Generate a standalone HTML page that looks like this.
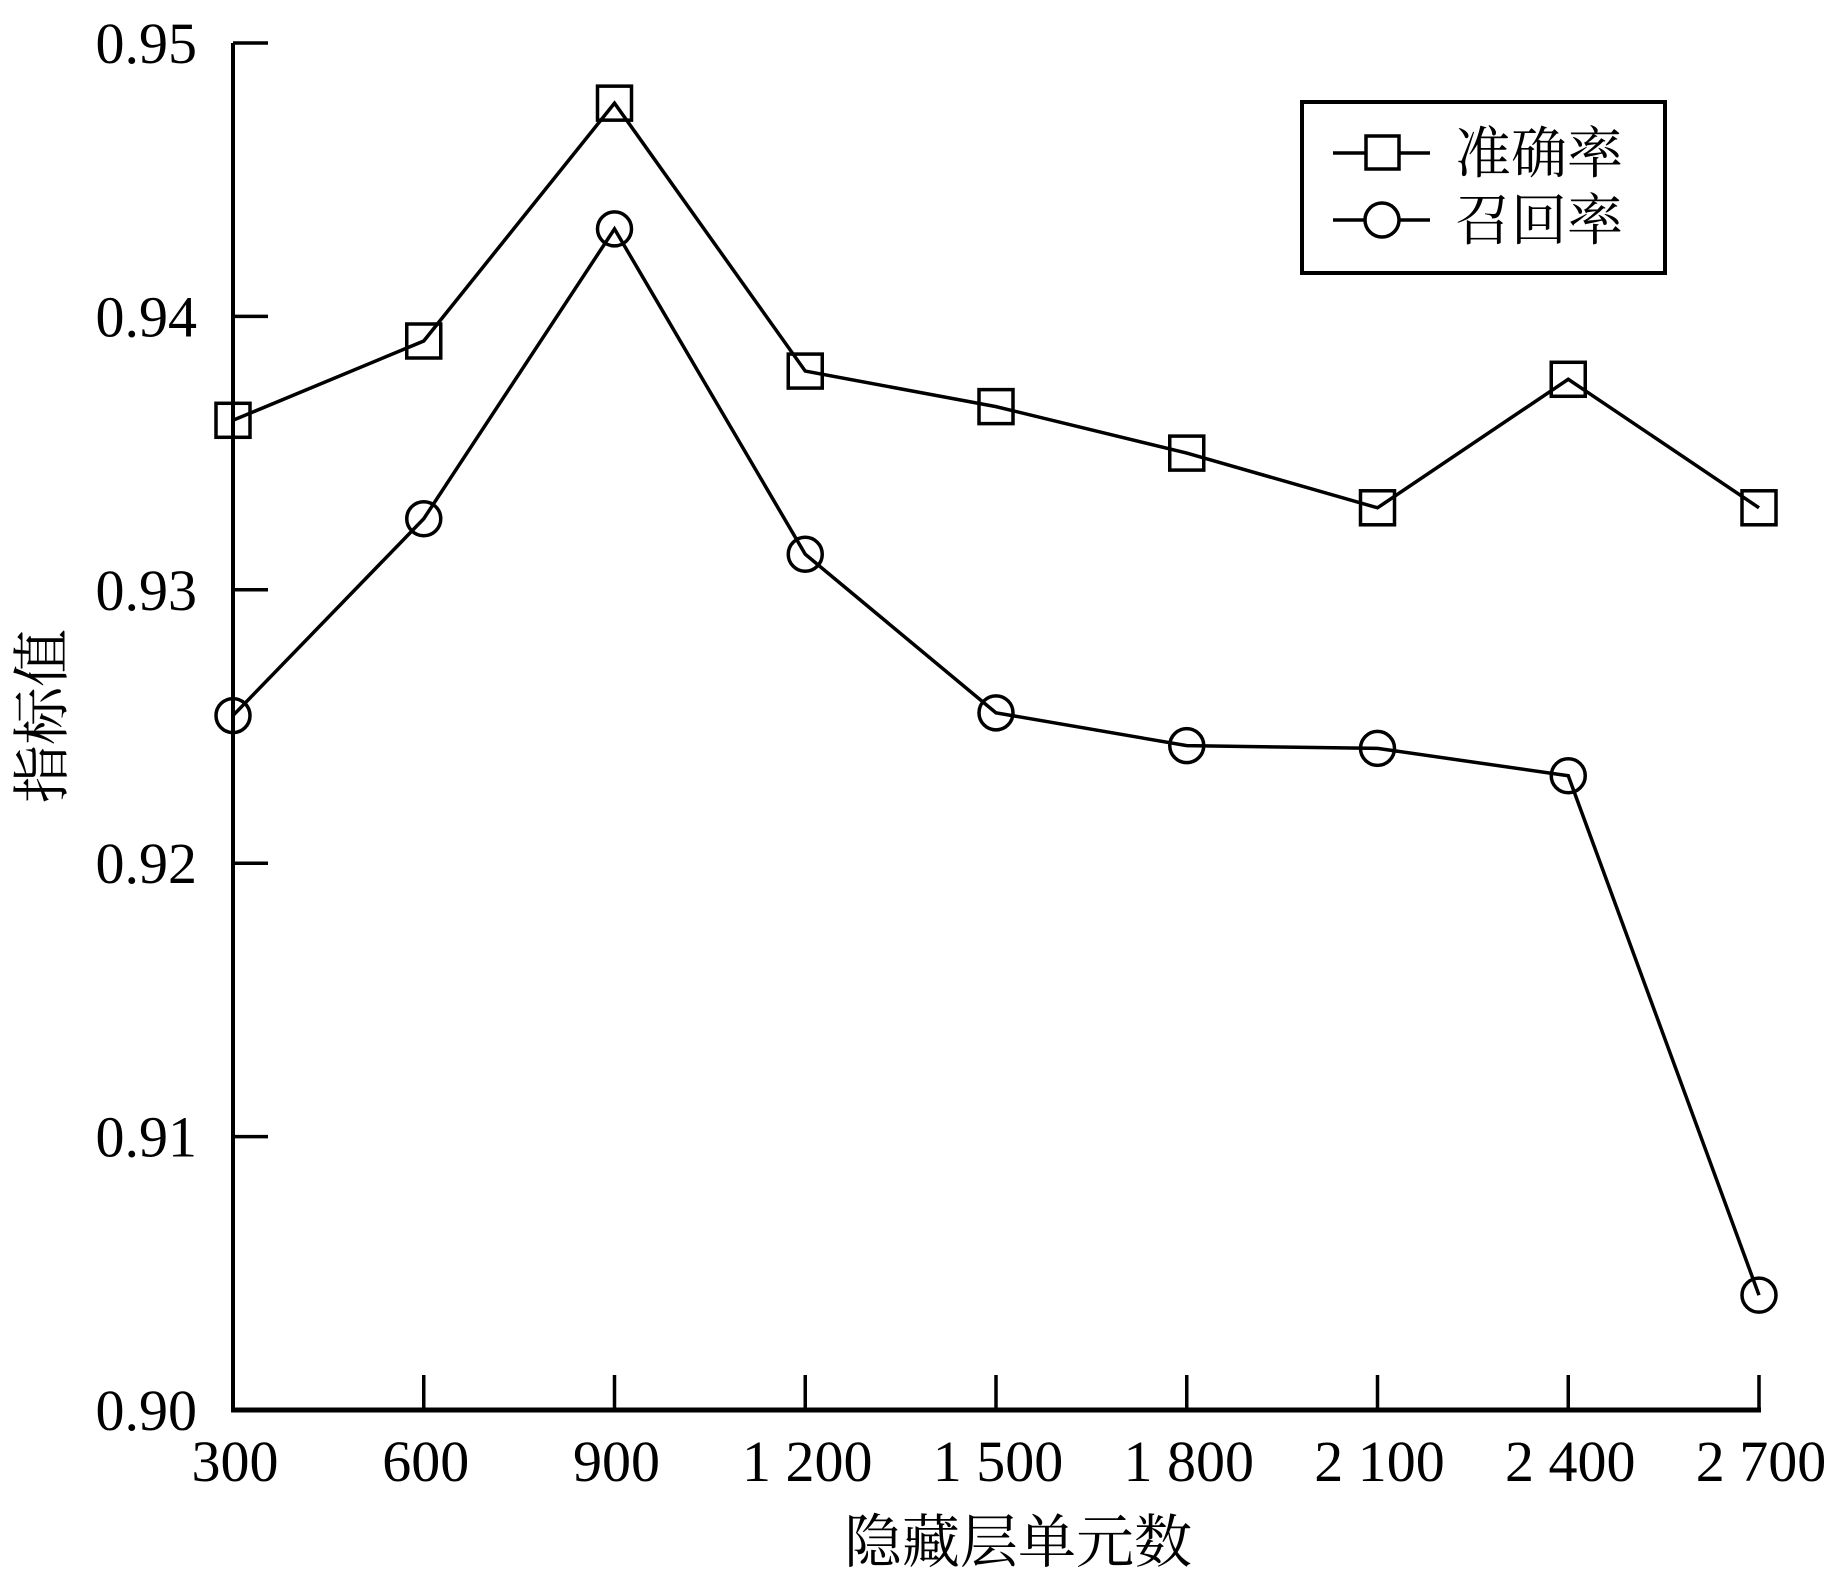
<!DOCTYPE html>
<html><head><meta charset="utf-8"><style>
html,body{margin:0;padding:0;background:#fff;}
svg{display:block;}
text{font-family:"Liberation Serif","Noto Serif CJK SC","Noto Sans CJK SC",serif;fill:#000;}
</style></head><body>
<svg id="chart" width="1824" height="1579" viewBox="0 0 1824 1579" xmlns="http://www.w3.org/2000/svg">
<g id="axes"></g>
<g id="series"></g>
<g>
<rect x="1302" y="102" width="363" height="171" fill="#fff" stroke="#000" stroke-width="4"/>
<g>
<line x1="1333" y1="153" x2="1430" y2="153" stroke="#000" stroke-width="3.5"/>
<rect x="1366" y="136" width="33" height="33" fill="#fff" stroke="#000" stroke-width="3.5"/>
<text x="1455" y="173" font-size="56">准确率</text>
</g>
<g>
<line x1="1333" y1="220" x2="1430" y2="220" stroke="#000" stroke-width="3.5"/>
<circle cx="1382" cy="220" r="17" fill="#fff" stroke="#000" stroke-width="3.5"/>
<text x="1455" y="240" font-size="56">召回率</text>
</g>
</g>
<text x="1018" y="1562" font-size="58" text-anchor="middle">隐藏层单元数</text>
<text transform="translate(62,716) rotate(-90)" font-size="58" text-anchor="middle">指标值</text>
</svg>
<script>
const categories = [300, 600, 900, 1200, 1500, 1800, 2100, 2400, 2700];
const xTickLabels = ["300", "600", "900", "1 200", "1 500", "1 800", "2 100", "2 400", "2 700"];
const yTicks = [0.90, 0.91, 0.92, 0.93, 0.94, 0.95];
const yTickLabels = ["0.90", "0.91", "0.92", "0.93", "0.94", "0.95"];
const accuracy = [0.9362, 0.9391, 0.9478, 0.9380, 0.9367, 0.9350, 0.9330, 0.9377, 0.9330];
const recall = [0.9254, 0.9326, 0.9432, 0.9313, 0.9255, 0.9243, 0.9242, 0.9232, 0.9042];

const NS = "http://www.w3.org/2000/svg";
const X0 = 233, X1 = 1759, Y0 = 1410, Y1 = 43;
function xScale(v){ return X0 + (v - 300) / (2700 - 300) * (X1 - X0); }
function yScale(v){ return Y0 - (v - 0.90) / (0.95 - 0.90) * (Y0 - Y1); }
function mk(tag, attrs, parent){ const e = document.createElementNS(NS, tag); for (const k in attrs) e.setAttribute(k, attrs[k]); parent.appendChild(e); return e; }

const axes = document.getElementById('axes');
let el = mk('line', {x1: X0, y1: Y1, x2: X0, y2: Y0, stroke: '#000', 'stroke-width': 4}, axes);


el = mk('line', {x1: X0 - 2, y1: Y0, x2: X1 + 2, y2: Y0, stroke: '#000', 'stroke-width': 5}, axes);


yTicks.forEach((t, i) => {
  const y = yScale(t);
  if (i > 0) {
    const tk = mk('line', {x1: X0, y1: y, x2: X0 + 35, y2: y, stroke: '#000', 'stroke-width': 3.5}, axes);
    
    
  }
  const lb = mk('text', {x: 197, y: y + 20, 'font-size': 58, 'text-anchor': 'end'}, axes);
  lb.textContent = yTickLabels[i];
  
  
});
categories.forEach((c, i) => {
  const x = xScale(c);
  if (i > 0) {
    const tk = mk('line', {x1: x, y1: Y0, x2: x, y2: Y0 - 35, stroke: '#000', 'stroke-width': 3.5}, axes);
    
    
  }
  const lb = mk('text', {x: x + 2, y: 1481, 'font-size': 58, 'text-anchor': 'middle'}, axes);
  lb.textContent = xTickLabels[i];
  
  
});

const sg = document.getElementById('series');
function drawSeries(vals, name, marker){
  const pts = vals.map((v, i) => xScale(categories[i]) + ',' + yScale(v)).join(' ');
  const pl = mk('polyline', {points: pts, fill: 'none', stroke: '#000', 'stroke-width': 3.5}, sg);
  
  
  vals.forEach((v, i) => {
    const x = xScale(categories[i]), y = yScale(v);
    let m;
    if (marker === 'square') m = mk('rect', {x: x - 17, y: y - 17, width: 34, height: 34, fill: 'none', stroke: '#000', 'stroke-width': 3.5}, sg);
    else m = mk('circle', {cx: x, cy: y, r: 17, fill: 'none', stroke: '#000', 'stroke-width': 3.5}, sg);
    
    
  });
}
drawSeries(accuracy, 'accuracy', 'square');
drawSeries(recall, 'recall', 'circle');
</script>
</body></html>
